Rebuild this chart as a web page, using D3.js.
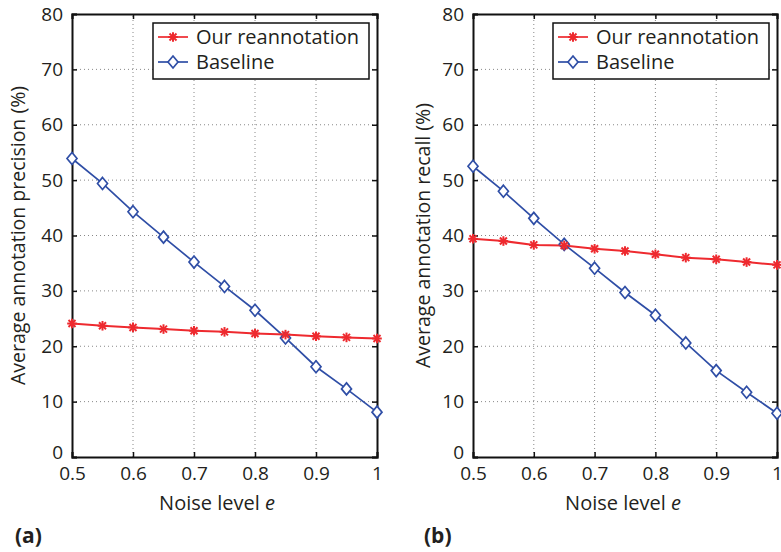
<!DOCTYPE html>
<html><head><meta charset="utf-8">
<script src="https://cdn.jsdelivr.net/npm/d3@7"></script>
<style>
body{margin:0;background:#fff;}
text{font-family:"Open Sans",sans-serif;fill:#231f20;}
</style></head>
<body><svg id="c" width="781" height="552"></svg>
<script>
const noise = [0.5,0.55,0.6,0.65,0.7,0.75,0.8,0.85,0.9,0.95,1.0];
const precOurs = [24.1,23.7,23.4,23.1,22.8,22.6,22.3,22.1,21.8,21.6,21.4];
const precBase = [53.9,49.4,44.3,39.7,35.2,30.8,26.5,21.5,16.3,12.3,8.1];
const recOurs = [39.4,39.0,38.3,38.2,37.6,37.2,36.6,36.0,35.7,35.2,34.7];
const recBase = [52.5,48.0,43.1,38.4,34.1,29.7,25.6,20.6,15.6,11.7,7.9];
const xTicks = [0.5,0.6,0.7,0.8,0.9,1];
const yTicks = [0,10,20,30,40,50,60,70,80];
const seriesNames = ["Our reannotation","Baseline"];
const yLabels = ["Average annotation precision (%)","Average annotation recall (%)"];
const panelTags = ["(a)","(b)"];

const RED="#ee2a2f", BLUE="#2f4ea6";
const svg = d3.select("#c");

const panels = [
  {x0:72, x1:377, ours:precOurs, base:precBase, ylab:yLabels[0], tag:panelTags[0], ylx:25, tagx:15, xlc:217},
  {x0:473, x1:777, ours:recOurs, base:recBase, ylab:yLabels[1], tag:panelTags[1], ylx:430, tagx:424, xlc:623}
];
const y0=457, y1=14;

function star(g, x, y){
  const s=4.8, d=3.5;
  const p = g.append("g").attr("transform",`translate(${x},${y})`).attr("stroke",RED).attr("stroke-width",2);
  p.append("line").attr("x1",-s).attr("x2",s);
  p.append("line").attr("y1",-s).attr("y2",s);
  p.append("line").attr("x1",-d).attr("y1",-d).attr("x2",d).attr("y2",d);
  p.append("line").attr("x1",-d).attr("y1",d).attr("x2",d).attr("y2",-d);
}
function diamond(g, x, y){
  g.append("path").attr("d",`M${x},${y-6}L${x+5},${y}L${x},${y+6}L${x-5},${y}Z`)
   .attr("fill","#fff").attr("stroke",BLUE).attr("stroke-width",1.7);
}

panels.forEach(p=>{
  const x = d3.scaleLinear().domain([0.5,1]).range([p.x0,p.x1]);
  const y = d3.scaleLinear().domain([0,80]).range([y0,y1]);
  const g = svg.append("g");
  // grid
  g.selectAll(".gx").data(xTicks.slice(1,-1)).enter().append("line")
    .attr("x1",d=>x(d)).attr("x2",d=>x(d)).attr("y1",y0).attr("y2",y1)
    .attr("stroke","#888").attr("stroke-width",1).attr("stroke-dasharray","1,3");
  g.selectAll(".gy").data(yTicks.slice(1,-1)).enter().append("line")
    .attr("y1",d=>y(d)).attr("y2",d=>y(d)).attr("x1",p.x0).attr("x2",p.x1)
    .attr("stroke","#888").attr("stroke-width",1).attr("stroke-dasharray","1,3");
  // axes (inward ticks)
  const axB = d3.axisBottom(x).tickValues(xTicks).tickSize(-5).tickPadding(10).tickFormat(d3.format("~g"));
  const axT = d3.axisTop(x).tickValues(xTicks).tickSize(-5).tickFormat("");
  const axL = d3.axisLeft(y).tickValues(yTicks).tickSize(-5).tickPadding(9);
  const axR = d3.axisRight(y).tickValues(yTicks).tickSize(-5).tickFormat("");
  [[axB,`translate(0,${y0})`,"b"],[axT,`translate(0,${y1})`,"t"],[axL,`translate(${p.x0},0)`,"l"],[axR,`translate(${p.x1},0)`,"r"]].forEach(([a,t,k])=>{
    const ag = g.append("g").attr("transform",t).call(a);
    ag.select(".domain").attr("stroke","#111").attr("stroke-width",2);
    ag.selectAll(".tick line").attr("stroke","#111").attr("stroke-width",1.5);
    ag.selectAll(".tick text").attr("font-size",19).attr("font-family","Open Sans, sans-serif").attr("fill","#231f20");
    if(k==="l") ag.selectAll(".tick text").filter(d=>d===0).attr("y",-5);
  });
  // lines
  const line = d3.line().x((d,i)=>x(noise[i])).y(d=>y(d));
  g.append("path").datum(p.base).attr("d",line).attr("fill","none").attr("stroke",BLUE).attr("stroke-width",1.7);
  g.append("path").datum(p.ours).attr("d",line).attr("fill","none").attr("stroke",RED).attr("stroke-width",2);
  p.base.forEach((v,i)=>diamond(g,x(noise[i]),y(v)));
  p.ours.forEach((v,i)=>star(g,x(noise[i]),y(v)));
  // legend
  const lx = p.x1-224, ly=23;
  g.append("rect").attr("x",lx).attr("y",ly).attr("width",216).attr("height",56)
    .attr("fill","#fff").attr("stroke","#111").attr("stroke-width",1.5);
  const rows=[{n:seriesNames[0],c:RED,m:star},{n:seriesNames[1],c:BLUE,m:diamond}];
  rows.forEach((r,i)=>{
    const yy = ly+14+i*25;
    g.append("line").attr("x1",lx+5).attr("x2",lx+35).attr("y1",yy).attr("y2",yy).attr("stroke",r.c).attr("stroke-width",1.7);
    r.m(g,lx+20,yy);
    g.append("text").attr("x",lx+43).attr("y",yy+7).attr("font-size",20).text(r.n);
  });
  // labels
  const xl = g.append("text").attr("x",p.xlc).attr("y",510).attr("text-anchor","middle").attr("font-size",20);
  xl.append("tspan").text("Noise level ");
  xl.append("tspan").attr("font-style","italic").text("e");
  g.append("text").attr("transform",`translate(${p.ylx},${(y0+y1)/2}) rotate(-90)`)
    .attr("text-anchor","middle").attr("font-size",19.5).text(p.ylab);
  g.append("text").attr("x",p.tagx).attr("y",543).attr("font-size",21).attr("font-weight","bold").text(p.tag);
});
</script></body></html>
